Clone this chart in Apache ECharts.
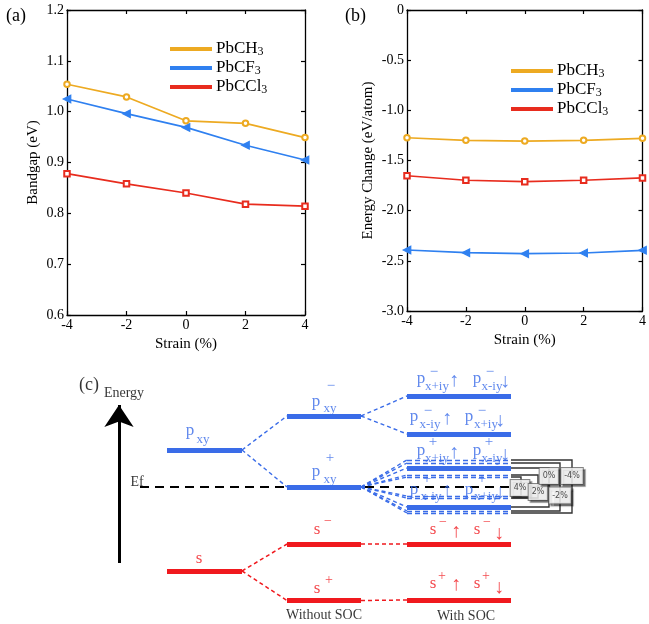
<!DOCTYPE html>
<html><head><meta charset="utf-8">
<script src="https://cdn.jsdelivr.net/npm/echarts@6/dist/echarts.min.js"></script>
<style>html,body{margin:0;padding:0;background:#fff}#c{width:649px;height:624px}</style>
</head><body><div id="c"></div>
<script>
// ---------- data: panels (a) and (b) ----------
const strain = [-4, -2, 0, 2, 4];
const seriesNames = ['PbCH3', 'PbCF3', 'PbCCl3'];
const bandgapCH3 = [1.054, 1.029, 0.982, 0.977, 0.949];
const bandgapCF3 = [1.025, 0.996, 0.969, 0.934, 0.905];
const bandgapCCl3 = [0.878, 0.858, 0.840, 0.818, 0.814];
const energyCH3 = [-1.273, -1.299, -1.306, -1.299, -1.279];
const energyCF3 = [-2.392, -2.419, -2.429, -2.422, -2.395];
const energyCCl3 = [-1.652, -1.697, -1.711, -1.697, -1.674];

// ---------- data: panel (c) schematic (x: horizontal position, E: energy units) ----------
const blueLevels = [[167, 242, 174], [287, 361, 208], [287, 361, 137],
  [407, 511, 228], [407, 511, 190], [407, 511, 156], [407, 511, 117]];
const redLevels = [[167, 242, 53], [287, 361, 80], [287, 361, 23.5], [407, 511, 80], [407, 511, 24]];
const strainLevels = [164, 161, 149, 147, 128, 126, 113, 111];
const blueLinks = [[242, 174, 287, 208], [242, 174, 287, 137], [361, 208, 407, 228], [361, 208, 407, 190]];
const fanTargets = [164, 161, 156, 149, 147, 128, 126, 117, 113, 111];
const redLinks = [[242, 53, 287, 80], [242, 53, 287, 23.5], [361, 80, 407, 80], [361, 23.5, 407, 24]];
const fermi = [140, 512, 137];
const energyArrow = [119, 61, 219];
const brackets = [ // [E top, E bottom, x of vertical]
  [147, 128, 521], [149, 126, 538], [156, 117, 549], [161, 113, 560], [164, 111, 572]];
const strainBoxes = [['4%', 520, 136], ['2%', 538, 132], ['0%', 549, 148], ['-2%', 560, 128.5], ['-4%', 572, 148]];
const texts = [
  ['(c)', 89, 239, 'title'], ['Energy', 124, 231, 'blk'], ['Ef', 137, 142, 'blk'],
  ['Without SOC', 324, 9, 'blk'], ['With SOC', 466, 8, 'blk'],
  ['p', 190, 193, 'pB'], ['xy', 203, 184, 'subB'],
  ['p', 316, 222, 'pB'], ['xy', 330, 215, 'subB'], ['\u2212', 331, 238, 'supB'],
  ['p', 316, 152, 'pB'], ['xy', 330, 144, 'subB'], ['+', 330, 166, 'supB'],
  ['s', 199, 65, 'pR'],
  ['s', 317, 94, 'pR'], ['\u2212', 328, 103, 'supR'],
  ['s', 317, 35, 'pR'], ['+', 329, 44, 'supR'],
  // with SOC, row 1
  ['p', 421, 245, 'pB'], ['\u2212', 434, 252, 'supB'], ['x+iy', 437, 237, 'subB'], ['\u2191', 454, 243, 'arrB'],
  ['p', 477, 245, 'pB'], ['\u2212', 490, 252, 'supB'], ['x-iy', 492, 237, 'subB'], ['\u2193', 505, 242, 'arrB'],
  // row 2
  ['p', 414, 207, 'pB'], ['\u2212', 428, 213, 'supB'], ['x-iy', 430, 199, 'subB'], ['\u2191', 447, 205, 'arrB'],
  ['p', 469, 207, 'pB'], ['\u2212', 482, 213, 'supB'], ['x+iy', 486, 199, 'subB'], ['\u2193', 500, 203, 'arrB'],
  // row 3
  ['p', 421, 173, 'pB'], ['+', 433, 182, 'supB'], ['x+iy', 437, 165, 'subB'], ['\u2191', 454, 171, 'arrB'],
  ['p', 477, 173, 'pB'], ['+', 489, 182, 'supB'], ['x-iy', 492, 165, 'subB'], ['\u2193', 505, 169, 'arrB'],
  // row 4
  ['p', 414, 134, 'pB'], ['+', 427, 145, 'supB'], ['x-iy', 431, 127, 'subB'], ['\u2191', 447, 133, 'arrB'],
  ['p', 469, 134, 'pB'], ['+', 482, 145, 'supB'], ['x+iy', 486, 127, 'subB'], ['\u2193', 500, 131, 'arrB'],
  // s rows
  ['s', 433, 94, 'pR'], ['\u2212', 443, 102, 'supR'], ['\u2191', 456, 92, 'arrR'],
  ['s', 477, 94, 'pR'], ['\u2212', 487, 102, 'supR'], ['\u2193', 499, 90, 'arrR'],
  ['s', 433, 40, 'pR'], ['+', 442, 48, 'supR'], ['\u2191', 456, 39, 'arrR'],
  ['s', 477, 40, 'pR'], ['+', 486, 48, 'supR'], ['\u2193', 499, 36, 'arrR']
];

// ---------- styling ----------
const FONT = '"Liberation Serif", "DejaVu Serif", serif';
const C_OR = '#EDAA22', C_BL = '#2F80F0', C_RD = '#E82C1E';
const D_BL = '#3A6CE8', D_RD = '#F0191E';
const textStyles = {
  title: {color: '#000', fontSize: 18},
  blk: {color: '#000', fontSize: 14},
  pB: {color: D_BL, fontSize: 17}, subB: {color: D_BL, fontSize: 13}, supB: {color: D_BL, fontSize: 15},
  arrB: {color: D_BL, fontSize: 20},
  pR: {color: D_RD, fontSize: 17}, supR: {color: D_RD, fontSize: 14}, arrR: {color: D_RD, fontSize: 20}
};

const axisBase = {
  type: 'value', splitLine: {show: false},
  axisLine: {show: true, onZero: false, lineStyle: {color: '#000', width: 1.3}},
  axisTick: {show: true, inside: true, length: 4, lineStyle: {color: '#000', width: 1.2}},
  axisLabel: {color: '#000', fontFamily: FONT, fontSize: 14, margin: 3}
};
function ax(o) { return Object.assign({}, JSON.parse(JSON.stringify(axisBase)), o); }
const nameStyle = {color: '#000', fontFamily: FONT, fontSize: 15};

const xAxes = [
  ax({gridIndex: 0, min: -4, max: 4, interval: 2, name: 'Strain (%)', nameLocation: 'middle', nameGap: 22, nameTextStyle: nameStyle}),
  ax({gridIndex: 0, min: -4, max: 4, interval: 2, position: 'top', axisLabel: {show: false}}),
  ax({gridIndex: 1, min: -4, max: 4, interval: 2, name: 'Strain (%)', nameLocation: 'middle', nameGap: 22, nameTextStyle: nameStyle}),
  ax({gridIndex: 1, min: -4, max: 4, interval: 2, position: 'top', axisLabel: {show: false}}),
  {type: 'value', gridIndex: 2, min: 0, max: 649, show: false}
];
const yAxes = [
  ax({gridIndex: 0, min: 0.6, max: 1.2, interval: 0.1, name: 'Bandgap (eV)', nameLocation: 'middle', nameGap: 26, nameTextStyle: nameStyle,
      axisLabel: Object.assign({}, axisBase.axisLabel, {formatter: v => v.toFixed(1)})}),
  ax({gridIndex: 0, min: 0.6, max: 1.2, interval: 0.1, position: 'right', axisLabel: {show: false}}),
  ax({gridIndex: 1, min: -3, max: 0, interval: 0.5, name: 'Energy Change (eV/atom)', nameLocation: 'middle', nameGap: 31, nameTextStyle: nameStyle,
      axisLabel: Object.assign({}, axisBase.axisLabel, {formatter: v => v === 0 ? '0' : v.toFixed(1)})}),
  ax({gridIndex: 1, min: -3, max: 0, interval: 0.5, position: 'right', axisLabel: {show: false}}),
  {type: 'value', gridIndex: 2, min: 0, max: 264, show: false}
];

const markers = {
  PbCH3: {symbol: 'emptyCircle', symbolSize: 5.5, symbolRotate: 0},
  PbCF3: {symbol: 'triangle', symbolSize: 7.5, symbolRotate: 90},
  PbCCl3: {symbol: 'emptyRect', symbolSize: 5.5, symbolRotate: 0}
};
const colors = {PbCH3: C_OR, PbCF3: C_BL, PbCCl3: C_RD};
function lineSeries(name, vals, xi, yi) {
  return Object.assign({
    type: 'line', name: name, xAxisIndex: xi, yAxisIndex: yi,
    data: strain.map((s, i) => [s, vals[i]]),
    color: colors[name], lineStyle: {width: 1.7, color: colors[name]},
    itemStyle: {color: colors[name], borderColor: colors[name], borderWidth: 1.2},
    animation: false, z: 3
  }, markers[name]);
}

const legendText = {
  color: '#000', fontFamily: FONT, fontSize: 17, lineHeight: 18,
  rich: {s: {fontFamily: FONT, fontSize: 12, lineHeight: 10, verticalAlign: 'bottom', color: '#000'}}
};
const legendFmt = n => n.replace(/(\d)$/, '{s|$1}');
function legend(left, top) {
  return {data: seriesNames.map(n => ({name: n, icon: 'rect'})), orient: 'vertical', left: left, top: top,
    itemWidth: 40, itemHeight: 2.2, itemGap: 1, textStyle: legendText, formatter: legendFmt, selectedMode: false};
}

function seg(a) { return {coords: [[a[0], a[1]], [a[2], a[3]]]}; }
function lvl(l) { return {coords: [[l[0], l[2]], [l[1], l[2]]]}; }
const diag = {xAxisIndex: 4, yAxisIndex: 4, coordinateSystem: 'cartesian2d', type: 'lines', animation: false, silent: true};

const series = [
  lineSeries('PbCH3', bandgapCH3, 0, 0), lineSeries('PbCF3', bandgapCF3, 0, 0), lineSeries('PbCCl3', bandgapCCl3, 0, 0),
  lineSeries('PbCH3', energyCH3, 2, 2), lineSeries('PbCF3', energyCF3, 2, 2), lineSeries('PbCCl3', energyCCl3, 2, 2),
  Object.assign({}, diag, {z: 1, data: [{coords: [[fermi[0], fermi[2]], [fermi[1], fermi[2]]]}],
    lineStyle: {color: '#000', width: 2, type: [9, 6], opacity: 1}}),
  Object.assign({}, diag, {z: 2, data: blueLinks.map(seg).concat(fanTargets.map(e => seg([361, 137, 407, e]))),
    lineStyle: {color: D_BL, width: 1.4, type: [4, 3], opacity: 1}}),
  Object.assign({}, diag, {z: 2, data: redLinks.map(seg), lineStyle: {color: D_RD, width: 1.5, type: [4, 3], opacity: 1}}),
  Object.assign({}, diag, {z: 2, data: strainLevels.map(e => seg([407, e, 511, e])),
    lineStyle: {color: D_BL, width: 1.3, type: [5, 3], opacity: 1}}),
  Object.assign({}, diag, {z: 2, polyline: true,
    data: brackets.map(b => ({coords: [[511, b[0]], [b[2], b[0]], [b[2], b[1]], [511, b[1]]]})),
    lineStyle: {color: '#333', width: 1.4, opacity: 1}}),
  Object.assign({}, diag, {z: 3, data: blueLevels.map(lvl), lineStyle: {color: D_BL, width: 5, opacity: 1}}),
  Object.assign({}, diag, {z: 3, data: redLevels.map(lvl), lineStyle: {color: D_RD, width: 5, opacity: 1}}),
  Object.assign({}, diag, {z: 3, symbol: ['none', 'arrow'], symbolSize: 22,
    data: [{coords: [[energyArrow[0], energyArrow[1]], [energyArrow[0], energyArrow[2]]]}],
    lineStyle: {color: '#000', width: 3, opacity: 1}, itemStyle: {color: '#000'}}),
  {type: 'scatter', xAxisIndex: 4, yAxisIndex: 4, animation: false, silent: true, z: 5,
    symbolSize: 1, itemStyle: {color: 'rgba(0,0,0,0)'},
    data: texts.map(t => ({value: [t[1], t[2]],
      label: Object.assign({show: true, position: 'inside', formatter: t[0], fontFamily: FONT}, textStyles[t[3]])}))},
  {type: 'scatter', xAxisIndex: 4, yAxisIndex: 4, animation: false, silent: true, z: 6,
    symbolSize: 1, itemStyle: {color: 'rgba(0,0,0,0)'},
    data: strainBoxes.map(b => ({value: [b[1], b[2]],
      label: {show: true, position: 'inside', formatter: b[0], fontFamily: '"DejaVu Sans", sans-serif', fontSize: 8, color: '#222',
        backgroundColor: '#fff', borderColor: '#666', borderWidth: 1, padding: [4, 3],
        shadowColor: 'rgba(0,0,0,0.45)', shadowOffsetX: 2, shadowOffsetY: 2, shadowBlur: 1}}))}
];

const chart = echarts.init(document.getElementById('c'), null, {renderer: 'canvas'});
chart.setOption({
  backgroundColor: '#fff',
  animation: false,
  title: [
    {text: '(a)', left: 1, top: 2, textStyle: {fontFamily: FONT, fontSize: 18, fontWeight: 'normal', color: '#000'}},
    {text: '(b)', left: 340, top: 2, textStyle: {fontFamily: FONT, fontSize: 18, fontWeight: 'normal', color: '#000'}}
  ],
  grid: [
    {left: 67, top: 10, width: 238, height: 305},
    {left: 407, top: 10, width: 236, height: 301},
    {left: 0, top: 360, width: 649, height: 264}
  ],
  legend: [legend(165, 35), legend(506, 57)],
  xAxis: xAxes, yAxis: yAxes, series: series
});
</script></body></html>
